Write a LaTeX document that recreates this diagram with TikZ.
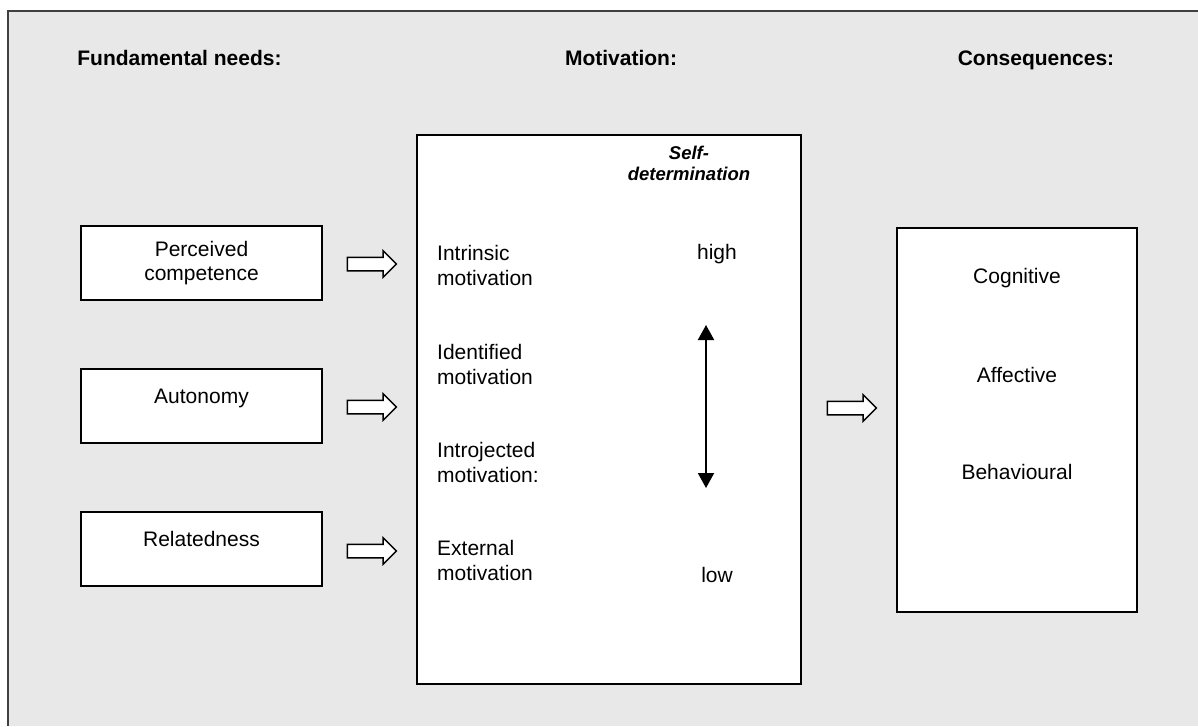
\documentclass[tikz,border=0pt]{standalone}
\usepackage{fontspec}
\setmainfont{Liberation Sans}
\usetikzlibrary{shapes.arrows,arrows.meta}
\definecolor{bgray}{HTML}{E8E8E8}
\definecolor{framegray}{HTML}{404040}
\begin{document}
\begin{tikzpicture}[x=1pt,y=-1pt,
  box/.style={draw, line width=1.5pt, fill=white, inner sep=0pt},
  lbl/.style={font=\fontsize{21}{24.5}\selectfont, inner sep=0pt},
  headlbl/.style={font=\fontsize{21}{24}\selectfont\bfseries, inner sep=0pt, anchor=base},
  sdlbl/.style={font=\fontsize{18.5}{21}\selectfont\bfseries\itshape, inner sep=0pt, align=center},
  blockarrow/.style={single arrow, draw, fill=white, line width=1.5pt,
    minimum height=49pt, inner xsep=0pt, inner ysep=6pt,
    single arrow head extend=6.5pt, single arrow tip angle=90},
  dblarrow/.style={line width=2pt, {Triangle[width=16pt,length=15pt]}-{Triangle[width=16pt,length=15pt]}}
]
\useasboundingbox (0,0) rectangle (1198,726);
\fill[bgray] (8,11) rectangle (1198,726);
\draw[framegray, line width=2pt] (8,726) -- (8,11) -- (1198,11);

% headers
\node[headlbl] (h1) at (179.5,65) {Fundamental needs:};
\node[headlbl] (h2) at (621,65) {Motivation:};
\node[headlbl] (h3) at (1036,65) {Consequences:};

% left boxes
\node[box, lbl, minimum width=241pt, minimum height=74pt, align=center] (pc) at (201.5,263) {Perceived\\competence};
\node[box, lbl, minimum width=241pt, minimum height=74pt, text height=15pt, text depth=21pt] (au) at (201.5,406) {Autonomy};
\node[box, lbl, minimum width=241pt, minimum height=74pt, text height=15pt, text depth=21pt] (re) at (201.5,549) {Relatedness};

% block arrows
\node[blockarrow] (a1) at (368.5,264) {};
\node[blockarrow] (a2) at (368.5,407) {};
\node[blockarrow] (a3) at (368.5,551) {};
\node[blockarrow] (a4) at (848.5,408) {};

% middle box
\node[box, minimum width=384pt, minimum height=549pt] (mot) at (609,409.5) {};
\node[lbl, align=left, anchor=base west] (m1) at (437,285) {Intrinsic\\motivation};
\node[lbl, align=left, anchor=base west] (m2) at (437,384) {Identified\\motivation};
\node[lbl, align=left, anchor=base west] (m3) at (437,482) {Introjected\\motivation:};
\node[lbl, align=left, anchor=base west] (m4) at (437,580) {External\\motivation};
\node[sdlbl, anchor=base] (sd) at (689,180) {Self-\\determination};
\node[lbl, anchor=base] (hi) at (717,259) {high};
\node[lbl, anchor=base] (lo) at (717,582) {low};
\coordinate (dtop) at (706,325);
\coordinate (dbot) at (706,488);
\draw[dblarrow] (dtop) -- (dbot);

% right box
\node[box, minimum width=240pt, minimum height=384pt] (cons) at (1017,420) {};
\node[lbl, anchor=base] (c1) at (1017,283) {Cognitive};
\node[lbl, anchor=base] (c2) at (1017,382) {Affective};
\node[lbl, anchor=base] (c3) at (1017,479) {Behavioural};
\end{tikzpicture}
\end{document}
